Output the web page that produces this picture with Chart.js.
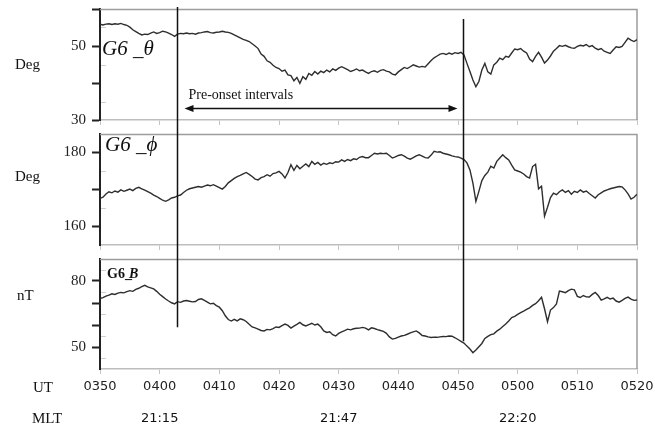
<!DOCTYPE html>
<html>
<head>
<meta charset="utf-8">
<script src="https://cdn.jsdelivr.net/npm/chart.js@4.4.1/dist/chart.umd.min.js"></script>
<style>
  html, body { margin: 0; padding: 0; background: #fff; }
  #wrap { position: relative; width: 655px; height: 427px; overflow: hidden; }
  #wrap canvas { position: absolute; left: 0; }
</style>
</head>
<body>
<div id="wrap">
  <canvas id="pTheta" width="655" height="127" style="top:0"></canvas>
  <canvas id="pPhi" width="655" height="125" style="top:127px"></canvas>
  <canvas id="pB" width="655" height="175" style="top:252px"></canvas>
  <canvas id="overlay" width="655" height="427" style="top:0"></canvas>
</div>
<script>
// minutes after 03:50 UT, one sample every half minute
const SAMPLE_STEP = 0.5;
const utTickMinutes = [0, 10, 20, 30, 40, 50, 60, 70, 80, 90];
const utTickLabels = ['0350', '0400', '0410', '0420', '0430', '0440', '0450', '0500', '0510', '0520'];
const mltTickMinutes = [10, 40, 70];
const mltTickLabels = ['21:15', '21:47', '22:20'];
const onsetMinutes = [12.95, 60.8];

const theta = [
  55.9, 55.7, 55.9, 56.0, 55.8, 56.0, 55.9, 56.1, 55.8, 55.6,
  55.1, 54.4, 53.9, 53.4, 53.0, 53.2, 53.1, 53.5, 53.8, 53.4,
  53.6, 54.0, 53.8, 53.5, 53.1, 52.6, 53.2, 53.4, 53.3, 53.5,
  53.3, 53.4, 53.2, 53.5, 53.6, 53.8, 53.9, 53.6, 53.5, 53.7,
  53.8, 54.0, 53.8, 53.7, 53.4, 53.0, 52.6, 52.2, 51.8, 51.5,
  51.2, 50.6, 50.0, 49.3, 47.8, 47.2, 46.0, 45.6, 44.8, 44.2,
  43.9, 43.2, 43.5, 42.2, 42.0, 40.6, 41.5, 39.9, 41.7, 41.0,
  42.6, 42.1, 43.1, 42.4, 43.2, 42.8, 43.5, 43.0, 43.8, 43.4,
  44.0, 44.4, 44.0, 43.6, 43.1, 43.4, 43.8, 43.3, 43.5, 43.0,
  42.6, 43.1, 43.3, 42.9, 43.4, 43.6, 43.2, 43.0, 42.4, 42.2,
  43.0, 43.6, 44.2, 43.9, 44.4, 44.9, 44.6, 44.3, 44.5, 44.3,
  45.2, 46.1, 46.8, 47.3, 47.8, 48.0, 47.7, 48.1, 47.8, 48.2,
  48.0, 48.3, 47.6, 45.3, 43.1, 40.8, 39.0, 40.4, 43.5, 45.3,
  43.0, 42.4, 44.9, 45.6, 46.7, 46.3, 47.2, 47.0, 48.1, 49.2,
  49.0, 49.3, 48.6, 48.1, 46.5, 45.8, 47.2, 48.3, 47.0, 45.4,
  46.2, 47.3, 48.6, 49.3, 50.1, 49.9, 50.2, 49.8, 49.5, 49.4,
  49.9, 50.2, 50.0, 50.4, 49.8, 50.1, 49.4, 49.0, 49.3, 48.6,
  48.3, 48.0, 48.9, 49.8, 49.6, 49.9, 51.0, 52.1, 51.6, 51.2,
  51.7
];

const phi = [
  167.6, 167.9, 168.8, 169.4, 169.1, 169.6, 169.3, 169.9, 169.5, 169.8,
  170.1, 169.7, 170.3, 170.6, 170.2, 169.8, 169.4, 169.0, 168.5, 168.1,
  167.6, 167.1, 166.8, 167.2, 167.7, 167.9, 168.3, 168.5, 169.2, 169.8,
  170.2, 170.4, 170.6, 170.8, 170.6, 170.9, 171.2, 171.0, 171.3, 170.9,
  170.5, 170.1, 170.8, 171.8, 172.4, 173.0, 173.5, 173.8, 174.2, 174.6,
  174.1, 173.5, 172.8, 172.6, 173.2, 173.5, 174.0, 173.6, 174.3, 174.5,
  174.9, 174.2, 173.1, 174.6, 176.7, 175.2, 176.5, 175.6, 176.3, 176.9,
  176.2, 177.6, 176.8, 177.3, 176.6, 177.1, 176.8, 177.2, 177.0, 177.5,
  177.4, 178.0, 177.6, 178.1, 177.8, 178.3, 178.1, 178.7, 178.9, 178.6,
  178.6, 179.2, 179.8, 179.6, 179.8, 179.7, 179.8, 179.2, 178.5, 178.8,
  179.2, 179.4, 179.0, 178.5, 178.2, 178.6, 179.1, 179.4, 179.0, 178.6,
  178.5, 179.3, 180.3, 180.1, 180.2, 179.8, 179.6, 179.4, 179.1, 178.9,
  178.8, 178.5, 178.1, 177.2, 175.3, 171.7, 166.8, 169.5, 172.4, 173.8,
  174.7, 176.3, 175.8, 177.6, 178.5, 179.4, 178.6, 178.0, 176.6, 175.3,
  175.0, 174.7, 174.2, 173.5, 173.1, 176.2, 176.8, 170.2, 170.9, 162.8,
  165.2, 167.8, 169.0, 168.6, 169.4, 169.9, 169.2, 169.7, 168.7, 169.5,
  169.2, 169.9, 169.3, 169.6, 168.9, 168.3, 167.7, 168.6, 169.1, 169.6,
  169.9, 170.2, 170.4, 170.6, 170.8, 170.7, 169.9, 168.8, 167.4, 167.9,
  168.7
];

const bField = [
  72.0, 72.4, 73.1, 73.6, 74.2, 73.9, 74.5, 74.8, 74.6, 75.2,
  75.6, 75.3, 76.2, 76.7, 77.4, 78.0, 77.3, 76.9, 76.4, 75.3,
  74.0, 72.9, 71.8, 70.9, 70.1, 69.6, 70.6, 70.3, 70.9, 71.1,
  70.8, 70.5, 70.7, 71.6, 71.9, 71.2, 70.4, 69.6, 69.9, 68.8,
  68.1, 66.5, 64.2, 62.5, 61.8, 62.6, 61.9, 62.8, 62.4, 61.6,
  60.3, 59.1, 58.7, 58.1, 57.5, 57.3, 58.0, 57.8, 58.4, 59.1,
  58.9, 59.7, 60.4, 59.8, 58.6, 59.5, 60.3, 61.2, 60.1, 59.6,
  60.2, 60.8, 60.0, 60.4, 59.2, 57.3, 56.6, 56.9, 55.6, 55.0,
  56.2, 56.9, 57.4, 58.1, 57.8, 58.3, 58.5, 58.6, 58.9, 58.6,
  57.8, 58.7, 58.4, 57.9, 57.5, 57.1, 56.2, 54.6, 53.6, 53.9,
  54.5, 55.0, 55.3, 55.8, 56.4, 56.9, 57.3, 56.4, 55.2, 55.0,
  54.6, 54.3, 54.5, 54.4, 54.6, 54.8, 54.7, 55.0, 54.9, 54.2,
  53.4, 52.6, 51.8, 50.4, 49.1, 47.4, 48.6, 50.1, 51.6, 53.9,
  54.8, 55.6, 56.0, 57.2, 58.1, 59.3, 60.5, 61.8, 63.4, 63.9,
  64.8, 65.6, 66.3, 67.1, 67.8, 68.9, 69.7, 71.0, 72.6, 67.4,
  61.5, 66.8, 67.9, 69.6, 75.4, 75.1, 74.7, 75.6, 76.3, 76.0,
  73.0, 72.5, 73.4, 72.8, 72.7, 73.9, 74.8, 73.4, 71.3, 71.9,
  72.6, 71.8, 72.2, 70.9, 70.4, 71.2, 72.1, 72.7, 71.8, 71.2,
  71.4
];

const thetaMajor = [60, 50, 40, 30], thetaLabeled = [50, 30], thetaMinor = [55, 45, 35];
const phiMajor = [180, 170, 160], phiLabeled = [180, 160], phiMinor = [175, 165];
const bMajor = [80, 70, 60, 50], bLabeled = [80, 50], bMinor = [85, 75, 65, 55, 45];

const SERIF = "'Liberation Serif', 'Times New Roman', serif";
const SANS = "'DejaVu Sans', Verdana, sans-serif";

const panelDecor = {
  id: 'panelDecor',
  beforeDatasetsDraw(chart, args, o) {
    const { ctx, chartArea: a, scales: { y } } = chart;
    ctx.save();
    ctx.strokeStyle = '#9c9c9c';
    ctx.lineWidth = 1.5;
    ctx.beginPath();
    ctx.moveTo(a.left, a.top + 0.5);
    ctx.lineTo(a.right, a.top + 0.5);
    ctx.lineTo(a.right, a.bottom);
    ctx.stroke();
    ctx.strokeStyle = '#d0d0d0';
    ctx.lineWidth = 1;
    o.minor.forEach(v => {
      const py = Math.round(y.getPixelForValue(v)) + 0.5;
      ctx.beginPath();
      ctx.moveTo(a.left + 1, py);
      ctx.lineTo(a.left + 6, py);
      ctx.stroke();
    });
    ctx.restore();
  },
  afterDraw(chart, args, o) {
    const { ctx } = chart;
    ctx.save();
    ctx.fillStyle = '#111';
    ctx.textBaseline = 'middle';
    ctx.font = '15px ' + SERIF;
    ctx.fillText(o.unit, o.unitX, o.unitY);
    ctx.textBaseline = 'alphabetic';
    o.name.forEach(part => {
      ctx.font = part.font;
      ctx.fillText(part.text, part.x, o.nameY);
    });
    if (o.mlt) {
      const xs = chart.scales.x;
      ctx.textBaseline = 'middle';
      ctx.font = '15px ' + SERIF;
      ctx.fillText('UT', 33, o.utY);
      ctx.fillText('MLT', 32, o.mltY);
      ctx.font = '13px ' + SANS;
      ctx.textAlign = 'center';
      mltTickMinutes.forEach((m, i) => ctx.fillText(mltTickLabels[i], xs.getPixelForValue(m), o.mltY));
    }
    ctx.restore();
  }
};

// keep the plot box where the panel says, ignoring label overhang
function noOverhang(s) {
  s.paddingTop = 0; s.paddingBottom = 0; s.paddingLeft = 0; s.paddingRight = 0;
}

function panel(id, values, cfg) {
  const points = values.map((v, i) => ({ x: i * SAMPLE_STEP, y: v }));
  return new Chart(document.getElementById(id), {
    type: 'line',
    data: { datasets: [{ data: points, borderColor: '#2e2e2e', borderWidth: 1.4, pointRadius: 0, tension: 0 }] },
    options: {
      responsive: false,
      animation: false,
      events: [],
      layout: { autoPadding: false, padding: { top: cfg.padTop, right: 18, left: 0, bottom: 0 } },
      plugins: { legend: { display: false }, tooltip: { enabled: false }, panelDecor: cfg.decor },
      scales: {
        x: {
          type: 'linear', min: 0, max: 90,
          afterBuildTicks: s => { s.ticks = utTickMinutes.map(v => ({ value: v })); },
          afterFit: s => { s.height = cfg.xHeight; noOverhang(s); },
          border: { color: '#bdbdbd', width: 1.5 },
          grid: { drawOnChartArea: false, tickLength: 5, color: '#c4c4c4' },
          ticks: {
            display: cfg.showX, padding: 5, maxRotation: 0, color: '#222',
            font: { family: SANS, size: 13 },
            callback: (v, i) => utTickLabels[i]
          }
        },
        y: {
          min: cfg.min, max: cfg.max,
          afterBuildTicks: s => { s.ticks = cfg.major.map(v => ({ value: v })); },
          afterFit: s => { s.width = 100; noOverhang(s); },
          border: { color: '#222', width: 2 },
          grid: { drawOnChartArea: false, tickLength: 8, tickWidth: 2, tickColor: '#222' },
          ticks: {
            padding: 6, color: '#222',
            font: { family: SERIF, size: 15 },
            callback: v => cfg.labeled.includes(v) ? String(v) : ''
          }
        }
      }
    },
    plugins: [panelDecor]
  });
}

const cTheta = panel('pTheta', theta, {
  min: 30, max: 60, major: thetaMajor, labeled: thetaLabeled, padTop: 9, xHeight: 7, showX: false,
  decor: { minor: thetaMinor, unit: 'Deg', unitX: 15, unitY: 65, nameY: 55,
    name: [{ text: 'G6 _\u03B8', x: 102, font: 'italic 21px ' + SERIF }] }
});
const cPhi = panel('pPhi', phi, {
  min: 155, max: 185, major: phiMajor, labeled: phiLabeled, padTop: 7, xHeight: 7, showX: false,
  decor: { minor: phiMinor, unit: 'Deg', unitX: 15, unitY: 50, nameY: 24,
    name: [{ text: 'G6 _\u03D5', x: 105, font: 'italic 21px ' + SERIF }] }
});
const cB = panel('pB', bField, {
  min: 40, max: 90, major: bMajor, labeled: bLabeled, padTop: 7, xHeight: 58, showX: true,
  decor: { minor: bMinor, unit: 'nT', unitX: 17, unitY: 44, nameY: 26, mlt: true, utY: 136, mltY: 167,
    name: [{ text: 'G6_', x: 107, font: 'bold 14px ' + SERIF }, { text: 'B', x: 129, font: 'italic bold 14px ' + SERIF }] }
});

// onset markers and the pre-onset arrow span the stacked panels
function pageY(chart, v) { return chart.canvas.offsetTop + chart.scales.y.getPixelForValue(v); }
const ov = document.getElementById('overlay').getContext('2d');
const xs = cB.scales.x;
const x1 = Math.round(xs.getPixelForValue(onsetMinutes[0])) + 0.5;
const x2 = Math.round(xs.getPixelForValue(onsetMinutes[1])) + 0.5;
ov.strokeStyle = '#111';
ov.lineWidth = 1.5;
ov.beginPath();
ov.moveTo(x1, cTheta.chartArea.top - 2);
ov.lineTo(x1, pageY(cB, 59));
ov.moveTo(x2, pageY(cTheta, 57.3));
ov.lineTo(x2, pageY(cB, 52.6));
ov.stroke();

const ay = Math.round(pageY(cTheta, 33.2)) + 0.5;
const aL = x1 + 7, aR = x2 - 6;
ov.lineWidth = 1.3;
ov.beginPath();
ov.moveTo(aL + 6, ay);
ov.lineTo(aR - 6, ay);
ov.stroke();
ov.fillStyle = '#111';
ov.beginPath();
ov.moveTo(aL, ay); ov.lineTo(aL + 9, ay - 3.5); ov.lineTo(aL + 9, ay + 3.5); ov.closePath();
ov.moveTo(aR, ay); ov.lineTo(aR - 9, ay - 3.5); ov.lineTo(aR - 9, ay + 3.5); ov.closePath();
ov.fill();
ov.font = '14px ' + SERIF;
ov.fillText('Pre-onset intervals', x1 + 11, pageY(cTheta, 35.6));
</script>
</body>
</html>
